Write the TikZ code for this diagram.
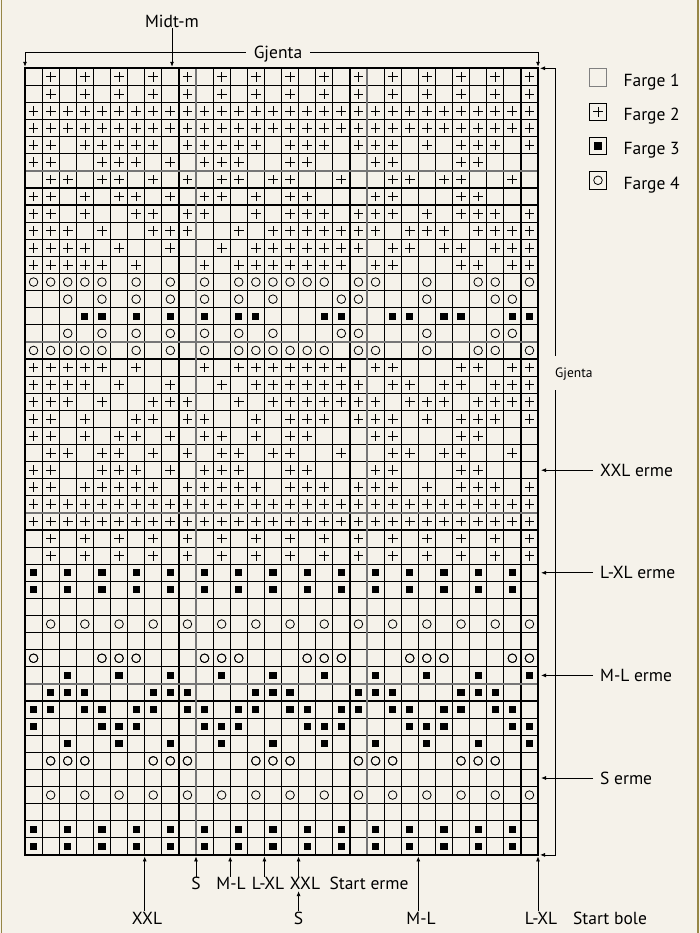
\documentclass[tikz,border=0pt]{standalone}
\usepackage{fontspec}
\setmainfont{PT Sans}
\usepackage{tikz}
\usetikzlibrary{arrows.meta,positioning,shapes.misc}
\definecolor{paper}{RGB}{245,242,234}
\definecolor{framecol}{RGB}{150,134,70}
\definecolor{blockgray}{RGB}{118,118,118}
\tikzset{
  cellline/.style={line width=1.2pt},
  blockline/.style={blockgray, line width=2.6pt},
  chartframe/.style={line width=2.4pt},
  plusmark/.style={cross out, draw, rotate=45, minimum size=6.2pt, inner sep=0pt, line width=0.7pt},
  ringmark/.style={circle, draw, minimum size=8.6pt, inner sep=0pt, line width=0.8pt},
  boxmark/.style={rectangle, fill=black, minimum size=7.2pt, inner sep=0pt},
  legendbox/.style={draw, minimum size=17.5pt, inner sep=0pt, line width=0.8pt},
  chartlabel/.style={font=\fontsize{17.5}{20}\selectfont, inner sep=1pt, text height=12.2pt, text depth=0pt},
  smalllabel/.style={font=\fontsize{13.5}{16}\selectfont, inner sep=0pt, text height=9.5pt, text depth=0pt},
  pointer/.style={-{Latex[length=5pt,width=4pt]}, line width=0.8pt},
  ermepointer/.style={pointer, shorten <=6pt, shorten >=3pt}
}
% one chart row: - empty, + farge 2, x farge 3, o farge 4, | only for reading
\makeatletter
\newcommand\knitrow[2]{%
  \edef\knitrowno{#1}\def\knitcol{0}\edef\knitlist{#2}%
  \expandafter\knit@loop\knitlist\relax}
\def\knit@loop#1{%
  \ifx\relax#1\else
    \knit@cell{#1}%
    \expandafter\knit@loop
  \fi}
\def\knit@cell#1{%
  \if#1|\else
    \pgfmathtruncatemacro\knitcol{\knitcol+1}%
    \if#1+\node[plusmark] at (\knitcol-0.5,\knitrowno-0.5) {};\fi
    \if#1o\node[ringmark] at (\knitcol-0.5,\knitrowno-0.5) {};\fi
    \if#1x\node[boxmark] at (\knitcol-0.5,\knitrowno-0.5) {};\fi
  \fi}
\makeatother

\begin{document}
\begin{tikzpicture}[x=1pt, y=-1pt]
\useasboundingbox (0,0) rectangle (700,933);
\fill[paper] (0,0) rectangle (700,933);
\draw[framecol, line width=1.6pt] (1.3,0) -- (1.3,933) (698,0) -- (698,933);
% chart, 30 x 46 cells
\begin{scope}[shift={(25,68.3)}, x=17.1pt, y=-17.1pt]
\foreach \c in {0,...,30} \draw[cellline] (\c,0) -- (\c,46);
\foreach \r in {0,...,46} \draw[cellline] (0,\r) -- (30,\r);
\foreach \c in {10,20} \draw[blockline] (\c,0) -- (\c,46);
\foreach \r in {6,16,26,36} \draw[blockline] (0,\r) -- (30,\r);
\draw[chartframe] (0,0) rectangle (30,46);
\foreach \r/\m/\pat in {
  1/29/-+-+-|+-+-+|-+-+-|+-+-+|-+-+-|+-+-+,
  2/28/-+-+-|+-+-+|-+-+-|+-+-+|-+-+-|+-+-+,
  3/27/+++++|+++++|+++++|+++++|+++++|+++++,
  4/26/+++++|+++++|+++++|+++++|+++++|+++++,
  5/25/++-++|+++-+|++++-|+++-+|++-+-|+++-+,
  6/24/++--+|++-+-|+++--|++---|++---|++---,
  7/23/-++-+|+-+-+|-++-+|+--+-|-++-+|+--+-,
  8/22/++-+-|++-+-|++-+-|++---|++---|++---,
  9/21/++-+-|-++-+|+--+-|+++-+|++-+-|+++-+,
  10/20/+++-+|--+++|--+-+|+++++|+-+++|-++++,
  11/19/++++-|+--+-|-+-++|+++++|-++-+|+-+++,
  12/18/+++++|-+---|+-+++|++++-|++---|++-++,
  13/17/ooooo|-o-o-|o-ooo|ooo-o|o--o-|-oo-o,
  14/16/--o-o|-o-o-|o-o-o|---oo|---o-|--oo-,
  15/15/---xx|-x-x-|x-xx-|--xx-|-xx-x|x--xx,
  30/31/x-x-x|-x-x-|x-x-x|-x-x-|x-x-x|-x-x-,
  45/46/x-x-x|-x-x-|x-x-x|-x-x-|x-x-x|-x-x-,
  33/43/-o-o-|o-o-o|-o-o-|o-o-o|-o-o-|o-o-o,
  35/35/o---o|oo---|ooo--|-ooo-|--ooo|---oo,
  36/40/--x--|x--x-|-x--x|--x--|x--x-|-x--x,
  37/37/-xxx-|--xxx|---xx|x---x|xx---|xxx--,
  38/38/xx-xx|-xx-x|x-xx-|xx-xx|-xx-x|x-xx-,
  39/39/x---x|xx---|xxx--|-xxx-|--xxx|---xx,
  41/41/-ooo-|--ooo|---oo|o---o|oo---|ooo--}
  {\knitrow{\r}{\pat}\knitrow{\m}{\pat}}
\coordinate (chartnw) at (0,0);
\coordinate (chartne) at (30,0);
\coordinate (chartse) at (30,46);
\foreach \c in {7,10,12,14,16,23} \coordinate (col\c) at (\c,46);
\end{scope}
% top
\node[chartlabel] (midt) at (172,21.2) {Midt-m};
\draw[pointer, shorten >=1.5pt] (midt) -- (midt |- chartnw);
\node[chartlabel, inner xsep=8pt] (gjentatop) at (278,52.5) {Gjenta};
\draw[pointer, shorten >=1.5pt] (gjentatop.west) -| (chartnw);
\draw[pointer, shorten >=1.5pt] (gjentatop.east) -| (chartne);
% right side
\node[smalllabel, anchor=west, minimum height=34pt] (gjentaside) at (555,373) {Gjenta};
\draw[pointer, shorten >=2pt] (gjentaside.north west) |- (chartne);
\draw[pointer, shorten >=2pt] (gjentaside.south west) |- (chartse);
\node[chartlabel, anchor=west] (ermexxl) at (599,470.2) {XXL erme};
\node[chartlabel, anchor=west] (ermelxl) at (599,572.8) {L-XL erme};
\node[chartlabel, anchor=west] (ermeml) at (599,675.4) {M-L erme};
\node[chartlabel, anchor=west] (ermes) at (599,778.0) {S erme};
\foreach \n in {ermexxl,ermelxl,ermeml,ermes}
  \draw[ermepointer] (\n.west) -- (\n.west -| chartse);
% bottom
\node[chartlabel] (shorts) at (196,883.8) {S};
\node[chartlabel] (shortml) at (231,883.8) {M-L};
\node[chartlabel] (shortlxl) at (268,883.8) {L-XL};
\node[chartlabel] (shortxxl) at (305,883.8) {XXL};
\node[chartlabel] (starterme) at (369,883.8) {Start erme};
\node[chartlabel] (longxxl) at (147,918) {XXL};
\node[chartlabel] (longs) at (298.6,918) {S};
\node[chartlabel] (longml) at (421,918) {M-L};
\node[chartlabel] (longlxl) at (541,918) {L-XL};
\node[chartlabel] (startbole) at (610,918) {Start bole};
\foreach \n/\c in {shorts/col10,shortml/col12,shortlxl/col14,shortxxl/col16,longxxl/col7,longml/col23,longlxl/chartse}
  \draw[pointer, shorten >=1.5pt] (\n.north -| \c) -- (\c);
\draw[pointer] (longs) -- (longs |- shortxxl.south);
% legend
\node[legendbox, draw=gray] (farge1) at (598,77.5) {};
\node[legendbox] (farge2) at (598,111.8) {};
\node[legendbox] (farge3) at (598,146) {};
\node[legendbox] (farge4) at (598,180.3) {};
\node[plusmark] at (farge2) {};
\node[boxmark] at (farge3) {};
\node[ringmark] at (farge4) {};
\foreach \n/\t in {farge1/Farge 1, farge2/Farge 2, farge3/Farge 3, farge4/Farge 4}
  \node[chartlabel, anchor=west] at ([xshift=15.2pt, yshift=-2.8pt]\n.east) {\t};
\end{tikzpicture}
\end{document}
